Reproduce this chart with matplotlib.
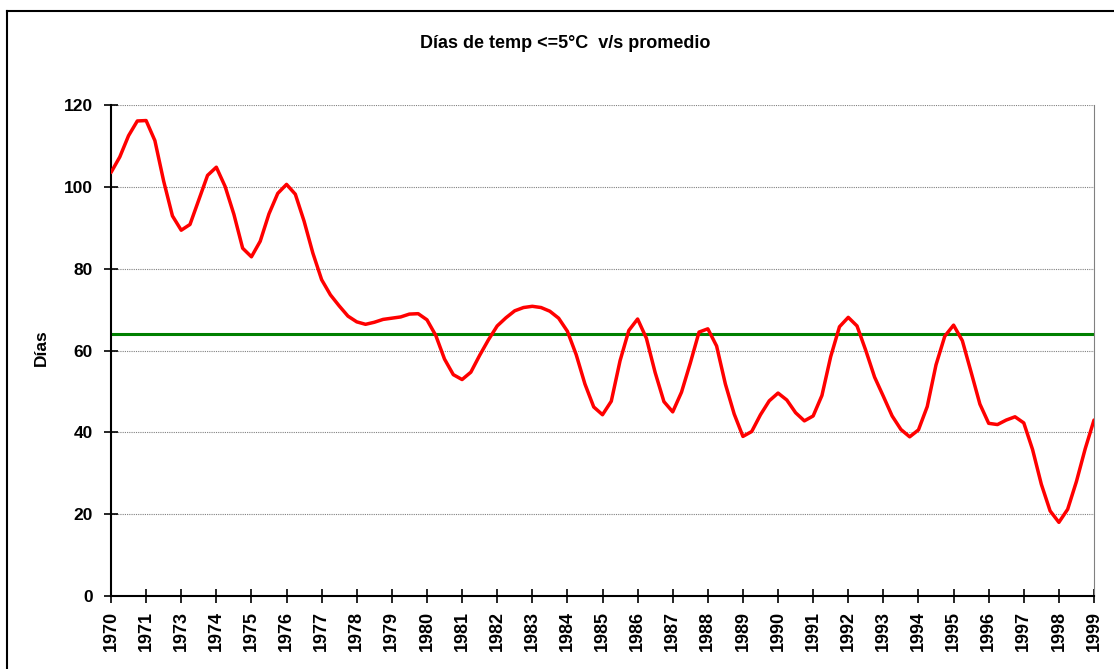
import matplotlib.pyplot as plt
import numpy as np
from matplotlib.lines import Line2D

plt.rcParams['font.family'] = ['Liberation Sans', 'DejaVu Sans']
plt.rcParams['font.weight'] = 'bold'

# category labels (1972 is not in the source table)
labels = ['1970', '1971', '1973', '1974', '1975', '1976', '1977', '1978', '1979',
          '1980', '1981', '1982', '1983', '1984', '1985', '1986', '1987', '1988',
          '1989', '1990', '1991', '1992', '1993', '1994', '1995', '1996', '1997',
          '1998', '1999']

# smoothed series, 4 readings per category step
dias = [103.5, 107.3, 112.5, 116.1, 116.2, 111.3, 101.4, 92.9,
        89.4, 90.8, 96.8, 102.8, 104.8, 100.1, 93.3, 85.0,
        82.9, 86.7, 93.4, 98.4, 100.6, 98.2, 91.6, 83.8,
        77.3, 73.6, 70.9, 68.4, 67.0, 66.4, 66.9, 67.6,
        67.9, 68.2, 68.9, 69.0, 67.5, 63.7, 57.9, 54.1,
        52.9, 54.7, 58.8, 62.6, 66.0, 68.0, 69.7, 70.5,
        70.8, 70.5, 69.6, 67.9, 64.7, 59.0, 51.8, 46.2,
        44.3, 47.6, 57.5, 64.9, 67.7, 63.0, 54.6, 47.5,
        45.0, 49.8, 56.9, 64.5, 65.3, 61.1, 51.8, 44.5,
        39.0, 40.2, 44.3, 47.7, 49.6, 47.9, 44.8, 42.8,
        44.0, 49.0, 58.5, 65.8, 68.1, 66.0, 60.0, 53.5,
        48.8, 44.0, 40.7, 38.9, 40.6, 46.3, 56.5, 63.5,
        66.2, 62.4, 54.7, 46.9, 42.2, 41.9, 43.0, 43.8,
        42.3, 35.8, 27.3, 20.8, 18.0, 21.2, 28.0, 36.0,
        43.0]
per_label = 4
promedio = 64.1

x = np.arange(len(dias)) / per_label

fig = plt.figure(figsize=(11.14, 6.69), dpi=100)
ax = fig.add_axes([111 / 1114, 1 - 596 / 669, (1094 - 111) / 1114, (596 - 105) / 669])

ax.plot(x, dias, color='#ff0000', lw=2.5, solid_joinstyle='round', solid_capstyle='round', zorder=3)
ax.axhline(promedio, color='#008000', lw=2.2, zorder=2)

ax.set_xlim(0, len(labels) - 1)
ax.set_ylim(0, 120)
ax.set_yticks(np.arange(0, 121, 20))
ax.set_xticks(np.arange(len(labels)))
ax.set_xticklabels(labels, rotation=90)
ax.tick_params(axis='both', direction='inout', length=10, width=1.2)
ax.tick_params(axis='x', pad=6, labelsize=13)
ax.tick_params(axis='y', pad=8, labelsize=12.5)
ax.grid(axis='y', color='#808080', ls=(0, (1, 1)), lw=0.8)
ax.set_axisbelow(True)

ax.spines['top'].set_visible(False)
ax.spines['right'].set_color('#808080')
ax.spines['left'].set_linewidth(1.5)
ax.spines['bottom'].set_linewidth(1.5)

fig.text(41 / 1114, 1 - 348 / 669, 'Días', rotation=90, ha='center', va='center',
         fontsize=12.5, fontweight='bold')
fig.text(565 / 1114, 1 - 44 / 669, 'Días de temp <=5°C  v/s promedio',
         ha='center', va='center', fontsize=13, fontweight='bold')

# outer chart frame
fig.add_artist(Line2D([7 / 1114, 7 / 1114], [0, 1 - 11 / 669], transform=fig.transFigure, color='black', lw=1.5))
fig.add_artist(Line2D([7 / 1114, 1], [1 - 11 / 669, 1 - 11 / 669], transform=fig.transFigure, color='black', lw=1.5))

fig.savefig('out.png', dpi=100)
